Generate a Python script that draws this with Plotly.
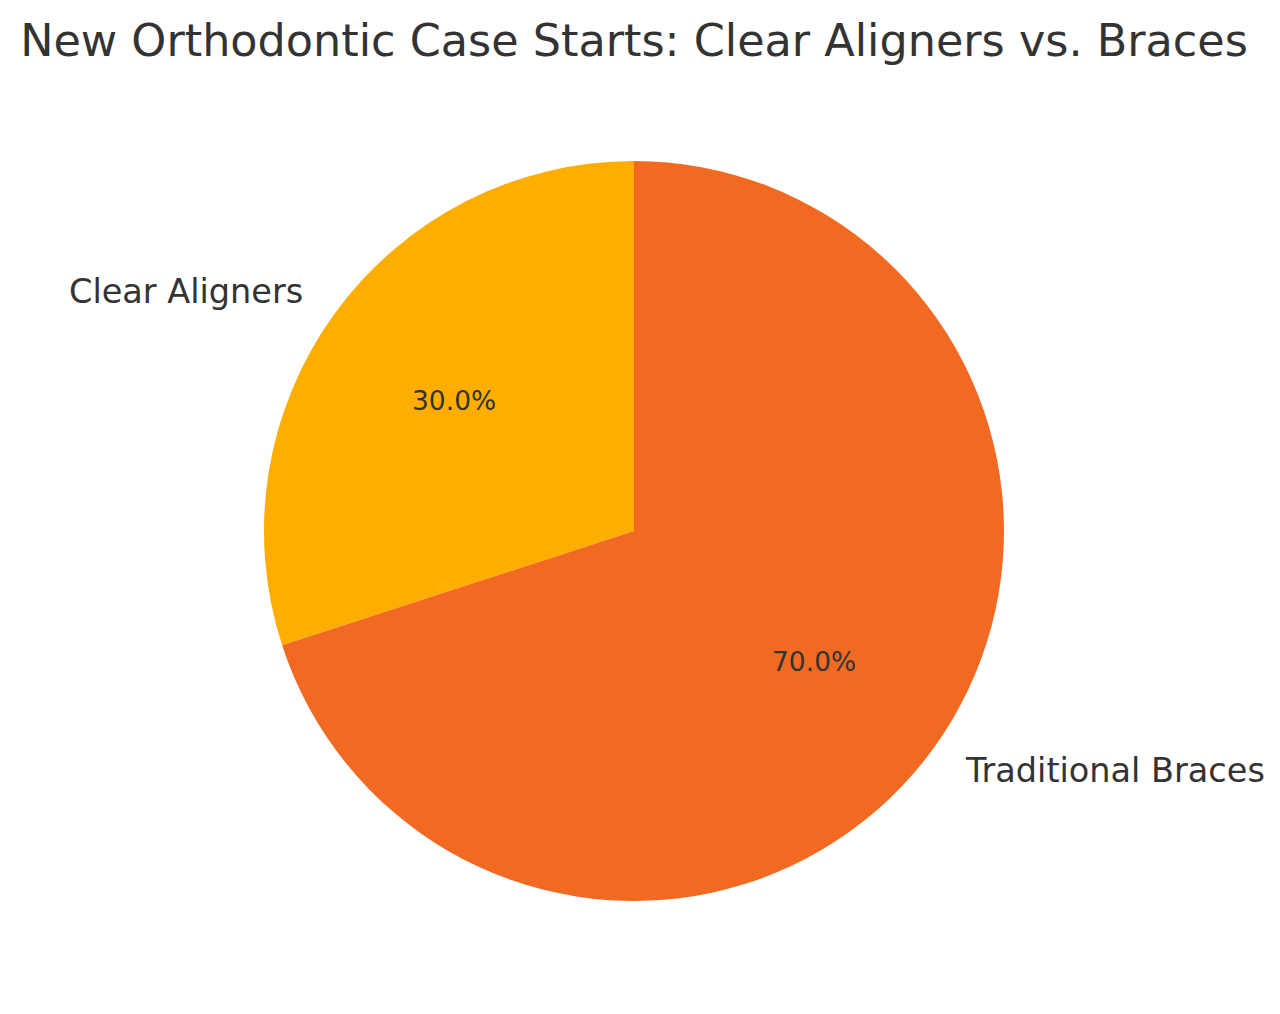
import math
import plotly.graph_objects as go

categories = ["Clear Aligners", "Traditional Braces"]
values = [30, 70]
colors = ["#FFAE00", "#F26A21"]

W, H = 1280, 1014
OFF = 8  # page body offset
cx_px, cy_px, r_px = 634 - OFF, 531 - OFF, 370

dom_x = [(cx_px - r_px) / W, (cx_px + r_px) / W]
dom_y = [(H - cy_px - r_px) / H, (H - cy_px + r_px) / H]

total = sum(values)
# first slice should start at 12 o'clock and run counterclockwise
first_rot = -360.0 * values[0] / total

fig = go.Figure(go.Pie(
    labels=categories, values=values, sort=False, direction="counterclockwise",
    rotation=first_rot, marker=dict(colors=colors, line=dict(width=0)),
    textinfo="none", hoverinfo="label+percent", showlegend=False,
    domain=dict(x=dom_x, y=dom_y),
))

start = 90.0
annotations = []
for lab, v in zip(categories, values):
    span = 360.0 * v / total
    mid = math.radians(start + span / 2)
    start += span
    cxp = cx_px / W
    cyp = (H - cy_px) / H
    lx = cxp + 1.1 * r_px * math.cos(mid) / W
    ly = cyp + 1.1 * r_px * math.sin(mid) / H
    annotations.append(dict(
        x=lx, y=ly, xref="paper", yref="paper", text=lab, showarrow=False,
        xanchor="left" if math.cos(mid) > 0 else "right", yanchor="middle",
        font=dict(family="DejaVu Sans", size=33.5, color="#333333"),
    ))
    px_ = cxp + 0.6 * r_px * math.cos(mid) / W
    py_ = cyp + 0.6 * r_px * math.sin(mid) / H
    annotations.append(dict(
        x=px_, y=py_, xref="paper", yref="paper", text=f"{100.0 * v / total:.1f}%",
        showarrow=False, xanchor="center", yanchor="middle",
        font=dict(family="DejaVu Sans", size=26.5, color="#333333"),
    ))

fig.update_layout(
    width=W, height=H,
    margin=dict(l=0, r=0, t=0, b=0),
    paper_bgcolor="white", plot_bgcolor="white",
    title=dict(text="New Orthodontic Case Starts: Clear Aligners vs. Braces",
               x=cx_px / W, xanchor="center", y=1 - (40 - OFF) / H, yanchor="middle",
               font=dict(family="DejaVu Sans", size=44.5, color="#333333")),
    annotations=annotations,
)

fig.write_html("out.html")
